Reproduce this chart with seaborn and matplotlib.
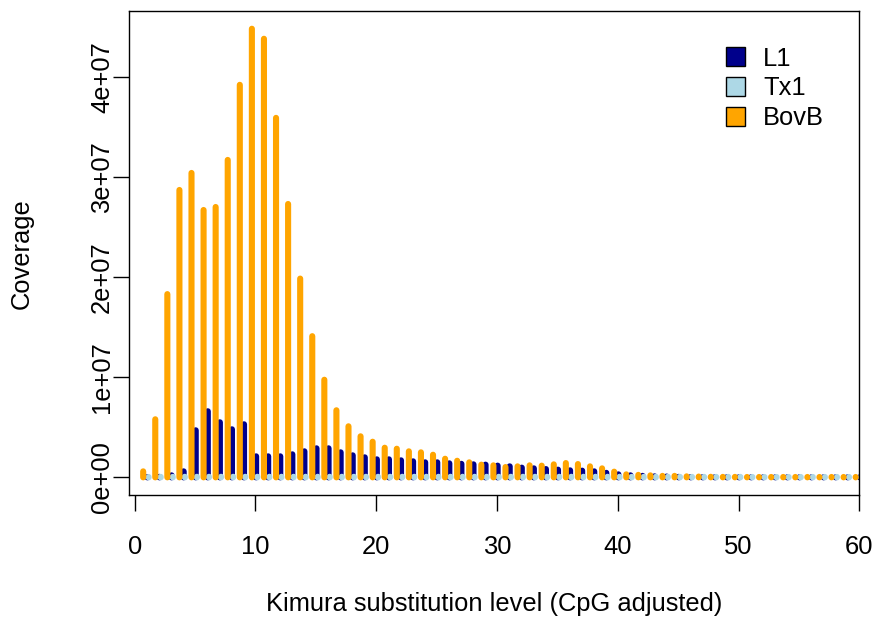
import matplotlib
matplotlib.use("Agg")
import matplotlib.pyplot as plt
import matplotlib.transforms as mtransforms
from matplotlib.patches import Patch
import numpy as np
import seaborn as sns

# ---- data (Kimura substitution level bins 1..60) ----
bins = list(range(1, 61))
L1 = [2e4, 5e4, 2e5, 6e5, 4.7e6, 6.6e6, 5.5e6, 4.8e6, 5.3e6, 2.1e6,
      2.1e6, 2.1e6, 2.3e6, 2.6e6, 2.9e6, 2.9e6, 2.5e6, 2.2e6, 2.0e6, 1.8e6,
      1.8e6, 1.7e6, 1.6e6, 1.5e6, 1.5e6, 1.4e6, 1.35e6, 1.3e6, 1.27e6, 1.17e6,
      1.1e6, 9.7e5, 9.0e5, 8.3e5, 7.7e5, 7.0e5, 6.7e5, 6.0e5, 4.5e5, 3.0e5,
      2.0e5, 1.5e5, 1.0e5, 8e4, 5e4, 3e4, 3e4, 2e4, 2e4, 2e4,
      1e4, 1e4, 1e4, 1e4, 1e4, 1e4, 1e4, 1e4, 1e4, 1e4]
Tx1 = [3e4, 5e4, 5e4, 6e4, 6e4, 6e4, 6e4, 6e4, 6e4, 6e4,
       6e4, 6e4, 6e4, 6e4, 6e4, 6e4, 6e4, 6e4, 6e4, 6e4,
       6e4, 6e4, 6e4, 6e4, 6e4, 6e4, 6e4, 6e4, 6e4, 6e4,
       6e4, 6e4, 6e4, 6e4, 6e4, 6e4, 6e4, 6e4, 6e4, 6e4,
       5e4, 5e4, 5e4, 5e4, 5e4, 5e4, 5e4, 5e4, 5e4, 5e4,
       4e4, 4e4, 4e4, 4e4, 4e4, 4e4, 4e4, 4e4, 4e4, 4e4]
BovB = [6e5, 5.8e6, 1.83e7, 2.87e7, 3.04e7, 2.67e7, 2.70e7, 3.17e7, 3.92e7, 4.48e7,
        4.38e7, 3.59e7, 2.73e7, 1.985e7, 1.41e7, 9.75e6, 6.7e6, 5.1e6, 4.1e6, 3.56e6,
        2.96e6, 2.86e6, 2.6e6, 2.5e6, 2.26e6, 1.86e6, 1.66e6, 1.5e6, 1.27e6, 1.2e6,
        1.03e6, 1.1e6, 1.2e6, 1.17e6, 1.3e6, 1.43e6, 1.33e6, 1.1e6, 9.0e5, 5.7e5,
        3.0e5, 2.5e5, 2.0e5, 1.5e5, 1.5e5, 1.0e5, 8e4, 6e4, 5e4, 5e4,
        4e4, 4e4, 4e4, 4e4, 4e4, 4e4, 4e4, 4e4, 4e4, 4e4]
series_names = ["L1", "Tx1", "BovB"]
series_colors = ["#00008B", "#ADD8E6", "#FFA500"]
offsets = [0.05, 0.15, -0.3]
xtick_vals = [0, 10, 20, 30, 40, 50, 60]
ytick_vals = [0, 1e7, 2e7, 3e7, 4e7]
ytick_labels = ["0e+00", "1e+07", "2e+07", "3e+07", "4e+07"]

sns.set_style("white")
plt.rcParams['font.family'] = ['Liberation Sans', 'DejaVu Sans']
plt.rcParams['path.simplify'] = False
for k in ['text.color', 'axes.labelcolor', 'xtick.color', 'ytick.color', 'axes.edgecolor']:
    plt.rcParams[k] = 'black'

FS = 18.4
W, H = 879, 624
fig = plt.figure(figsize=(W / 100, H / 100), dpi=100)
ax = fig.add_axes([128.7 / W, 1 - 495.3 / H, (859.3 - 128.7) / W, (495.3 - 11) / H])

x = np.array(bins, dtype=float)
for vals, col, off in zip([L1, Tx1, BovB], series_colors, offsets):
    for xi, v in zip(x + off, vals):
        ln, = ax.plot([xi, xi], [0, v], color=col, linewidth=4.4,
                      solid_capstyle='round')
        ln.set_snap(False)

ax.set_xlim(-0.5, 60)
ymax = 4.478e7
ax.set_ylim(-0.04 * ymax, 1.04 * ymax)

ax.set_xticks(xtick_vals)
ax.set_yticks(ytick_vals)
ax.set_yticklabels(ytick_labels, rotation=90, va='center')
ax.tick_params(axis='both', direction='out', length=11.5, width=1.0, labelsize=FS,
               colors='black', bottom=True, left=True)
ax.tick_params(axis='x', pad=17)
ax.tick_params(axis='y', pad=-1)

for s in ax.spines.values():
    s.set_visible(True)
    s.set_color('black')
    s.set_linewidth(1.0)

ax.set_xlabel("Kimura substitution level (CpG adjusted)", fontsize=FS, va='center')
ax.xaxis.set_label_coords(0.5, 1 - 604 / H,
                          transform=mtransforms.blended_transform_factory(ax.transAxes, fig.transFigure))
ax.set_ylabel("Coverage", fontsize=FS, va='center')
ax.yaxis.set_label_coords(22 / W, 0.5,
                          transform=mtransforms.blended_transform_factory(fig.transFigure, ax.transAxes))

handles = [Patch(facecolor=c, edgecolor='black', linewidth=1.0) for c in series_colors]
ax.legend(handles, series_names, loc='upper left',
          bbox_to_anchor=(725.7 / W, 1 - 46.5 / H), bbox_transform=fig.transFigure,
          frameon=False, fontsize=FS, handlelength=0.74, handleheight=0.74,
          handletextpad=0.72, labelspacing=0.23, borderpad=0, borderaxespad=0)

fig.savefig("out.png", dpi=100)
